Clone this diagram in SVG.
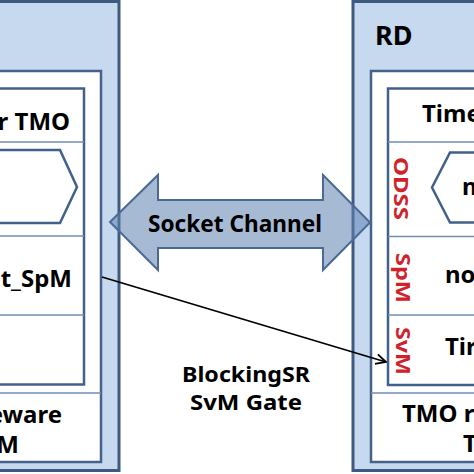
<svg xmlns="http://www.w3.org/2000/svg" width="474" height="474" viewBox="0 0 474 474">
<defs>
<style>
.outer{fill:#c6d9ef;stroke:#3f5a80;stroke-width:3}
.white{fill:#ffffff;stroke:#44628c;stroke-width:2.5}
.panel{fill:#ffffff;stroke:#41608a;stroke-width:2.5}
.sep{stroke:#6f8db3;stroke-width:1.5;fill:none}
.hex{fill:#ffffff;stroke:#41608a;stroke-width:2.5}
.t{font-family:"Noto Sans","Liberation Sans",sans-serif;font-weight:bold;font-size:24px;fill:#000}
.red{font-family:"Noto Sans","Liberation Sans",sans-serif;font-weight:bold;font-size:20px;fill:#d0222a}
.conn{stroke:#000;stroke-width:1.8;fill:none}
</style>
<marker id="open" markerUnits="userSpaceOnUse" viewBox="0 0 12 12" markerWidth="12" markerHeight="12" refX="11" refY="6" orient="auto">
<path d="M1,1 L11,6 L1,11" fill="none" stroke="#000" stroke-width="1.8"/>
</marker>
</defs>

<g id="left-node">
<rect class="outer" x="-10" y="1.5" width="129" height="469"/>
<rect class="white" x="-10" y="71" width="111" height="391"/>
<line class="sep" x1="-10" y1="393" x2="101" y2="393"/>
<rect class="panel" x="-10" y="88.5" width="94" height="296"/>
<line class="sep" x1="-10" y1="142" x2="84" y2="142"/>
<line class="sep" x1="-10" y1="236" x2="84" y2="236"/>
<line class="sep" x1="-10" y1="315" x2="84" y2="315"/>
<polygon class="hex" points="-20,150 60,150 77,187 60,223 -20,223"/>
<text class="t" x="70" y="130" text-anchor="end">r TMO</text>
<text class="t" x="72" y="287" text-anchor="end">t_SpM</text>
<text class="t" x="62" y="423" text-anchor="end">eware</text>
<text class="t" x="19" y="453" text-anchor="end">M</text>
</g>

<g id="right-node">
<rect class="outer" x="353" y="1.5" width="130" height="469"/>
<rect class="white" x="371" y="71" width="112" height="391"/>
<line class="sep" x1="371" y1="393" x2="483" y2="393"/>
<rect class="panel" x="388" y="88.5" width="95" height="296.5"/>
<line class="sep" x1="388" y1="142" x2="483" y2="142"/>
<line class="sep" x1="388" y1="236.5" x2="483" y2="236.5"/>
<line class="sep" x1="388" y1="315" x2="483" y2="315"/>
<polygon class="hex" points="500,152.5 450,152.5 432,187.5 450,222.5 500,222.5"/>
<text class="t" x="375" y="45" style="font-size:27px">RD</text>
<text class="t" x="422" y="122">Time</text>
<text class="t" x="462" y="195">m</text>
<text class="t" x="445" y="283">no</text>
<text class="t" x="445" y="355">Tir</text>
<text class="t" x="402" y="422">TMO r</text>
<text class="t" x="463" y="452">T</text>
<text class="red" transform="translate(394,188.5) rotate(90)" text-anchor="middle" textLength="63" lengthAdjust="spacingAndGlyphs">ODSS</text>
<text class="red" transform="translate(396,278) rotate(90)" text-anchor="middle" textLength="50" lengthAdjust="spacingAndGlyphs">SpM</text>
<text class="red" transform="translate(396,351) rotate(90)" text-anchor="middle" textLength="48" lengthAdjust="spacingAndGlyphs">SvM</text>
</g>

<g id="socket-channel">
<polygon points="110,222 158,175 158,200 323,200 323,175 370,222.5 323,270 323,248 158,248 158,270" fill="#5f82b0" fill-opacity="0.55" stroke="#4a6a95" stroke-width="2" stroke-linejoin="miter"/>
<text class="t" x="235" y="232" text-anchor="middle" textLength="174" lengthAdjust="spacingAndGlyphs">Socket Channel</text>
</g>

<g id="connectors">
<line class="conn" x1="102" y1="277" x2="386" y2="362" marker-end="url(#open)"/>
</g>

<g id="gate-label">
<text class="t" x="246" y="382" text-anchor="middle" textLength="128" lengthAdjust="spacingAndGlyphs" style="font-size:22px">BlockingSR</text>
<text class="t" x="246" y="410" text-anchor="middle" textLength="112" lengthAdjust="spacingAndGlyphs" style="font-size:22px">SvM Gate</text>
</g>
</svg>
